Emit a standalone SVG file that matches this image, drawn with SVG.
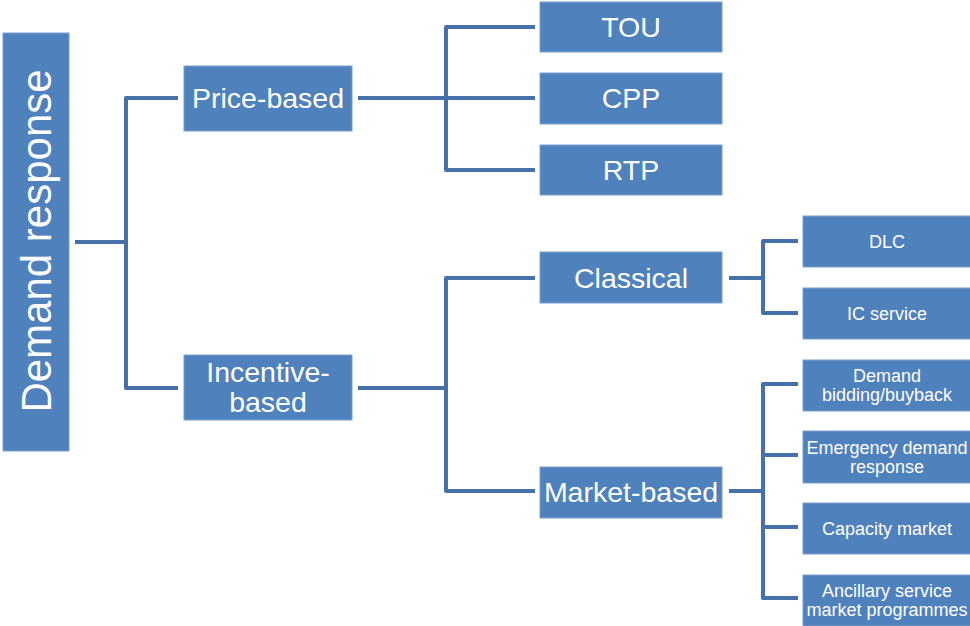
<svg xmlns="http://www.w3.org/2000/svg" width="970" height="626" viewBox="0 0 970 626">
<style>
.box{fill:#4F81BD;stroke:#7A9FD0;stroke-width:1}
.t{fill:#fff;font-family:"Liberation Sans",Arial,sans-serif;text-anchor:middle}
.l{font-size:28.5px}
.s{font-size:18px}
.c{fill:none;stroke:#4670A8;stroke-width:4;stroke-linejoin:round}
</style>
<rect width="970" height="626" fill="#fff"/>
<g id="connectors">
<path class="c" d="M75 242H126M178 98H126V388H178"/>
<path class="c" d="M358 98H446M535 27H446V170H535M446 98H535"/>
<path class="c" d="M358 388H446M535 278H446V491H535"/>
<path class="c" d="M729 278H763M798 241H763V313H798"/>
<path class="c" d="M729 491H763M798 384H763V598H798M763 455H798M763 527H798"/>
</g>
<g id="root"><rect class="box" x="3" y="33" width="66" height="418"/><text class="t" font-size="42" x="51" y="241" transform="rotate(-90 51 241)">Demand response</text></g>
<g id="price"><rect class="box" x="184" y="66" width="168" height="65"/><text class="t l" x="268" y="108">Price-based</text></g>
<g id="incentive"><rect class="box" x="184" y="355" width="168" height="65"/><text class="t l" x="268" y="382">Incentive-</text><text class="t l" x="268" y="412">based</text></g>
<g id="tou"><rect class="box" x="540" y="2" width="182" height="50"/><text class="t l" x="631" y="37">TOU</text></g>
<g id="cpp"><rect class="box" x="540" y="73" width="182" height="51"/><text class="t l" x="631" y="108">CPP</text></g>
<g id="rtp"><rect class="box" x="540" y="145" width="182" height="50"/><text class="t l" x="631" y="180">RTP</text></g>
<g id="classical"><rect class="box" x="540" y="252" width="182" height="51"/><text class="t l" x="631" y="288">Classical</text></g>
<g id="market"><rect class="box" x="540" y="467" width="182" height="51"/><text class="t l" x="631" y="502">Market-based</text></g>
<g id="dlc"><rect class="box" x="803" y="216" width="170" height="51"/><text class="t s" x="887" y="248">DLC</text></g>
<g id="ic"><rect class="box" x="803" y="288" width="170" height="51"/><text class="t s" x="887" y="320">IC service</text></g>
<g id="bidding"><rect class="box" x="803" y="360" width="170" height="51"/><text class="t s" x="887" y="382">Demand</text><text class="t s" x="887" y="401">bidding/buyback</text></g>
<g id="emergency"><rect class="box" x="803" y="431" width="170" height="52"/><text class="t s" x="887" y="454">Emergency demand</text><text class="t s" x="887" y="473">response</text></g>
<g id="capacity"><rect class="box" x="803" y="503" width="170" height="51"/><text class="t s" x="887" y="535">Capacity market</text></g>
<g id="ancillary"><rect class="box" x="803" y="575" width="170" height="51"/><text class="t s" x="887" y="597">Ancillary service</text><text class="t s" x="887" y="616">market programmes</text></g>
</svg>
